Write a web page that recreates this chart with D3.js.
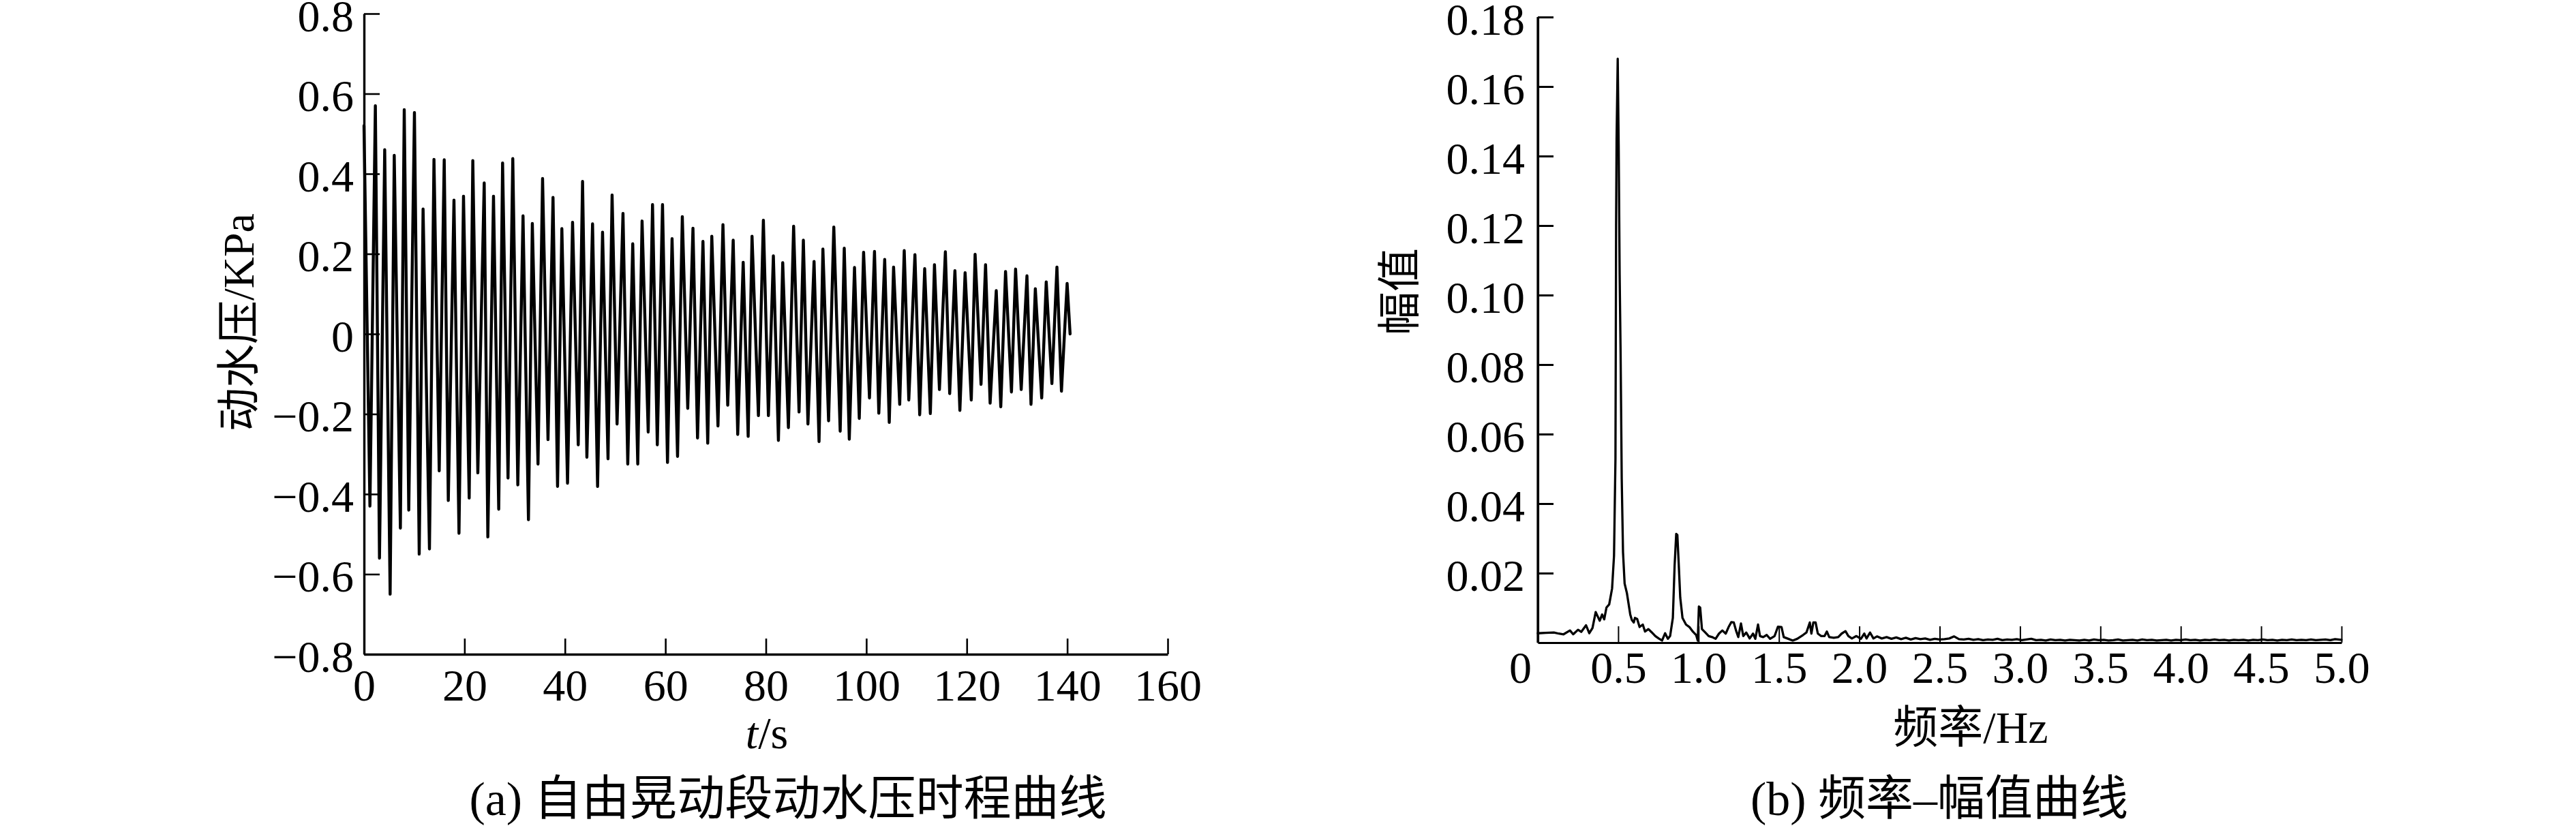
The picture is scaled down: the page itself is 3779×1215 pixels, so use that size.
<!DOCTYPE html>
<html><head><meta charset="utf-8">
<script src="https://cdn.jsdelivr.net/npm/d3@7"></script>
<style>
html,body{margin:0;padding:0;background:#fff;}
svg{display:block;background:#fff;}
</style></head><body>
<svg id="chart" width="3779" height="1215"></svg>
<script>
// ---------- (a) time history ----------
const timeS = [0,1.18,2.26,3.08,4.12,5.20,6.02,7.24,8.01,8.91,10.04,10.99,11.76,13.03,13.93,14.97,15.97,16.78,17.91,18.91,19.81,20.94,21.66,22.66,23.93,24.65,25.78,26.82,27.59,28.67,29.62,30.62,31.66,32.74,33.51,34.64,35.55,36.63,37.63,38.53,39.39,40.52,41.52,42.65,43.51,44.37,45.50,46.50,47.49,48.58,49.39,50.38,51.56,52.51,53.50,54.50,55.36,56.58,57.44,58.39,59.43,60.42,61.33,62.42,63.37,64.45,65.49,66.40,67.48,68.43,69.24,70.47,71.46,72.41,73.50,74.40,75.49,76.48,77.25,78.52,79.51,80.51,81.50,82.50,83.36,84.49,85.53,86.61,87.47,88.38,89.60,90.59,91.36,92.49,93.53,94.80,95.61,96.61,97.65,98.60,99.46,100.63,101.63,102.49,103.66,104.57,105.43,106.65,107.55,108.46,109.68,110.63,111.62,112.75,113.57,114.56,115.74,116.60,117.64,118.63,119.67,120.90,121.66,122.84,123.74,124.65,125.87,126.77,127.72,128.90,129.72,130.84,131.98,132.79,133.65,134.92,135.82,136.95,137.95,138.85,139.98,140.57];
const pressureKPa = [0.52,-0.43,0.57,-0.56,0.46,-0.65,0.446,-0.485,0.56,-0.44,0.553,-0.55,0.312,-0.537,0.436,-0.342,0.435,-0.416,0.334,-0.498,0.344,-0.41,0.433,-0.347,0.377,-0.507,0.344,-0.438,0.427,-0.36,0.438,-0.377,0.295,-0.464,0.276,-0.325,0.388,-0.264,0.341,-0.381,0.263,-0.373,0.279,-0.277,0.381,-0.308,0.275,-0.381,0.254,-0.312,0.347,-0.225,0.301,-0.325,0.225,-0.325,0.282,-0.245,0.323,-0.277,0.323,-0.321,0.238,-0.306,0.293,-0.186,0.264,-0.26,0.231,-0.273,0.244,-0.23,0.273,-0.178,0.234,-0.251,0.179,-0.256,0.244,-0.204,0.284,-0.204,0.195,-0.266,0.178,-0.234,0.269,-0.195,0.234,-0.225,0.181,-0.269,0.212,-0.217,0.267,-0.243,0.214,-0.263,0.166,-0.211,0.204,-0.16,0.206,-0.198,0.186,-0.221,0.167,-0.176,0.208,-0.165,0.198,-0.202,0.163,-0.199,0.173,-0.139,0.205,-0.149,0.158,-0.191,0.153,-0.165,0.199,-0.126,0.173,-0.173,0.108,-0.182,0.156,-0.145,0.162,-0.139,0.145,-0.176,0.113,-0.16,0.13,-0.124,0.167,-0.143,0.126,0.0];
const timeTicks = [0,20,40,60,80,100,120,140,160];
const timeTickLabels = ["0","20","40","60","80","100","120","140","160"];
const pressureTicks = [-0.8,-0.6,-0.4,-0.2,0,0.2,0.4,0.6,0.8];
const pressureTickLabels = ["\u22120.8","\u22120.6","\u22120.4","\u22120.2","0","0.2","0.4","0.6","0.8"];

// ---------- (b) spectrum ----------
const freqHz = [0,0.05,0.10,0.13,0.16,0.20,0.22,0.25,0.27,0.30,0.32,0.34,0.36,0.385,0.40,0.413,0.427,0.444,0.462,0.474,0.483,0.487,0.490,0.497,0.503,0.509,0.515,0.522,0.53,0.54,0.554,0.575,0.585,0.597,0.604,0.618,0.633,0.653,0.667,0.688,0.71,0.731,0.752,0.773,0.792,0.809,0.823,0.84,0.851,0.861,0.868,0.877,0.886,0.9,0.922,0.943,0.964,0.985,0.995,1.002,1.01,1.021,1.042,1.063,1.084,1.106,1.127,1.148,1.169,1.187,1.204,1.219,1.233,1.247,1.264,1.278,1.297,1.318,1.339,1.353,1.37,1.382,1.402,1.424,1.445,1.473,1.494,1.516,1.53,1.558,1.586,1.614,1.65,1.671,1.692,1.702,1.714,1.728,1.742,1.763,1.784,1.798,1.813,1.841,1.869,1.89,1.914,1.932,1.954,1.982,2.01,2.031,2.045,2.067,2.088,2.11,2.14,2.17,2.20,2.23,2.26,2.29,2.32,2.35,2.38,2.41,2.44,2.47,2.50,2.53,2.56,2.59,2.62,2.65,2.68,2.71,2.74,2.77,2.80,2.83,2.86,2.89,2.92,2.95,2.98,3.01,3.04,3.07,3.10,3.13,3.16,3.19,3.22,3.25,3.28,3.31,3.34,3.37,3.40,3.43,3.46,3.49,3.52,3.55,3.58,3.61,3.64,3.67,3.70,3.73,3.76,3.79,3.82,3.85,3.88,3.91,3.94,3.97,4.00,4.03,4.06,4.09,4.12,4.15,4.18,4.21,4.24,4.27,4.30,4.33,4.36,4.39,4.42,4.45,4.48,4.51,4.54,4.57,4.60,4.63,4.66,4.69,4.72,4.75,4.78,4.81,4.84,4.87,4.90,4.93,4.96,5.00];
const amplitude = [0.0027,0.0028,0.0029,0.0026,0.0024,0.0035,0.0024,0.0037,0.0031,0.0050,0.0027,0.0042,0.0088,0.0063,0.0081,0.0067,0.0101,0.0110,0.0156,0.025,0.053,0.12,0.145,0.168,0.143,0.106,0.083,0.047,0.026,0.017,0.0143,0.0081,0.0065,0.0058,0.0071,0.0068,0.0045,0.0052,0.0032,0.0039,0.0029,0.0019,0.0012,0.0006,0.0027,0.0011,0.0019,0.0071,0.0222,0.0313,0.031,0.0222,0.013,0.0071,0.0052,0.0045,0.0032,0.0022,0.0006,0.0104,0.0101,0.0039,0.0029,0.0019,0.0016,0.0011,0.0026,0.0035,0.0026,0.0045,0.0059,0.0058,0.0035,0.0016,0.0055,0.0019,0.0029,0.0012,0.0026,0.0011,0.0052,0.0019,0.0016,0.0022,0.0011,0.0019,0.0046,0.0045,0.0016,0.0011,0.0006,0.0011,0.0022,0.0029,0.0058,0.0026,0.0058,0.0058,0.0026,0.0019,0.0019,0.0032,0.0016,0.0014,0.0016,0.0026,0.0033,0.0019,0.0012,0.0019,0.0011,0.0026,0.0012,0.0029,0.0012,0.0018,0.0012,0.0016,0.0011,0.0015,0.0010,0.0014,0.0009,0.0013,0.0010,0.0012,0.0008,0.0011,0.0009,0.0010,0.0012,0.0018,0.0010,0.0009,0.0011,0.0008,0.0010,0.0007,0.0009,0.0008,0.0011,0.0007,0.0009,0.0008,0.0010,0.0007,0.0009,0.0011,0.0007,0.0008,0.0006,0.0009,0.0007,0.0008,0.0006,0.0008,0.0007,0.0006,0.0008,0.0006,0.0009,0.0007,0.0008,0.0006,0.0007,0.0009,0.0006,0.0007,0.0008,0.0006,0.0009,0.0007,0.0008,0.0006,0.0007,0.0008,0.0006,0.0008,0.0007,0.0009,0.0007,0.0008,0.0006,0.0008,0.0007,0.0009,0.0007,0.0008,0.0006,0.0008,0.0007,0.0008,0.0006,0.0008,0.0007,0.0009,0.0007,0.0008,0.0006,0.0008,0.0007,0.0009,0.0007,0.0008,0.0007,0.0009,0.0007,0.0008,0.0009,0.0007,0.0010,0.0008];
const freqTicks = [0,0.5,1.0,1.5,2.0,2.5,3.0,3.5,4.0,4.5,5.0];
const freqTickLabels = ["0","0.5","1.0","1.5","2.0","2.5","3.0","3.5","4.0","4.5","5.0"];
const ampTicks = [0.02,0.04,0.06,0.08,0.10,0.12,0.14,0.16,0.18];
const ampTickLabels = ["0.02","0.04","0.06","0.08","0.10","0.12","0.14","0.16","0.18"];

const NUM_FONT = '"Liberation Serif","Times New Roman",serif';
const CJK_FONT = '"Liberation Serif","Noto Sans CJK SC",serif';
const TICK_FS = 66;
const svg = d3.select("#chart");
svg.append("rect").attr("width",3779).attr("height",1215).attr("fill","#fff");

function styleAxis(g, domainW, tickW){
  g.select(".domain").attr("stroke","#000").attr("stroke-width",domainW);
  g.selectAll(".tick line").attr("stroke","#000").attr("stroke-width",tickW);
  g.selectAll(".tick text").attr("fill","#000").attr("font-family",NUM_FONT).attr("font-size",TICK_FS);
  g.attr("font-family",null).attr("font-size",null);
}

// ===== chart (a) =====
const xa = d3.scaleLinear().domain([0,160]).range([534,1713]);
const ya = d3.scaleLinear().domain([-0.8,0.8]).range([960,20]);

const lineA = d3.line().x((d,i)=>xa(timeS[i])).y((d,i)=>ya(pressureKPa[i]));
svg.append("path").datum(pressureKPa).attr("d",lineA)
  .attr("fill","none").attr("stroke","#000").attr("stroke-width",4.4)
  .attr("stroke-linejoin","round").attr("stroke-linecap","round");

const gxa = svg.append("g").attr("transform","translate(0,960)")
  .call(d3.axisBottom(xa).tickValues(timeTicks).tickSize(-23).tickSizeOuter(0).tickPadding(21)
    .tickFormat((d,i)=>timeTickLabels[i]));
styleAxis(gxa,3.4,2.6);
const gya = svg.append("g").attr("transform","translate(534,0)")
  .call(d3.axisLeft(ya).tickValues(pressureTicks).tickSize(-23).tickSizeOuter(0).tickPadding(15)
    .tickFormat((d,i)=>pressureTickLabels[i]));
styleAxis(gya,3.4,2.6);
gya.selectAll(".tick text").attr("dy","0.38em");

svg.append("text").attr("transform","translate(349,473) rotate(-90)")
  .attr("text-anchor","middle").attr("dy","0.36em")
  .attr("font-family",CJK_FONT).attr("font-size",64).attr("fill","#000")
  .text("动水压/KPa");
const tt = svg.append("text").attr("x",1125).attr("y",1098).attr("text-anchor","middle")
  .attr("font-family",NUM_FONT).attr("font-size",66).attr("fill","#000");
tt.append("tspan").attr("font-style","italic").text("t");
tt.append("tspan").text("/s");
svg.append("text").attr("x",1156).attr("y",1196).attr("text-anchor","middle")
  .attr("font-family",CJK_FONT).attr("font-size",70).attr("fill","#000")
  .text("(a) 自由晃动段动水压时程曲线");

// ===== chart (b) =====
const xb = d3.scaleLinear().domain([0,5]).range([2256,3435]);
const yb = d3.scaleLinear().domain([0,0.18]).range([943,25]);

const gxb = svg.append("g").attr("transform","translate(0,943)")
  .call(d3.axisBottom(xb).tickValues(freqTicks).tickSize(-24).tickSizeOuter(0).tickPadding(12)
    .tickFormat((d,i)=>freqTickLabels[i]));
styleAxis(gxb,3.2,2);
gxb.selectAll(".tick text").filter((d,i)=>i===0).attr("dx",-26);
const gyb = svg.append("g").attr("transform","translate(2256,0)")
  .call(d3.axisLeft(yb).tickValues(ampTicks).tickSize(-23).tickSizeOuter(0).tickPadding(19)
    .tickFormat((d,i)=>ampTickLabels[i]));
styleAxis(gyb,3.2,3);
gyb.selectAll(".tick text").attr("dy","0.38em");
// y-axis line extends down to origin
svg.append("line").attr("x1",2256).attr("x2",2256).attr("y1",yb(0.18)).attr("y2",yb(0))
  .attr("stroke","#000").attr("stroke-width",3.2);

const lineB = d3.line().x((d,i)=>xb(freqHz[i])).y((d,i)=>yb(amplitude[i]));
svg.append("path").datum(amplitude).attr("d",lineB)
  .attr("fill","none").attr("stroke","#000").attr("stroke-width",3.3)
  .attr("stroke-linejoin","round").attr("stroke-linecap","round");

svg.append("text").attr("transform","translate(2052,428) rotate(-90)")
  .attr("text-anchor","middle").attr("dy","0.36em")
  .attr("font-family",CJK_FONT).attr("font-size",64).attr("fill","#000")
  .text("幅值");
svg.append("text").attr("x",2891).attr("y",1090).attr("text-anchor","middle")
  .attr("font-family",CJK_FONT).attr("font-size",66).attr("fill","#000")
  .text("频率/Hz");
svg.append("text").attr("x",2845).attr("y",1196).attr("text-anchor","middle")
  .attr("font-family",CJK_FONT).attr("font-size",70).attr("fill","#000")
  .text("(b) 频率\u2013幅值曲线");
</script>
</body></html>
